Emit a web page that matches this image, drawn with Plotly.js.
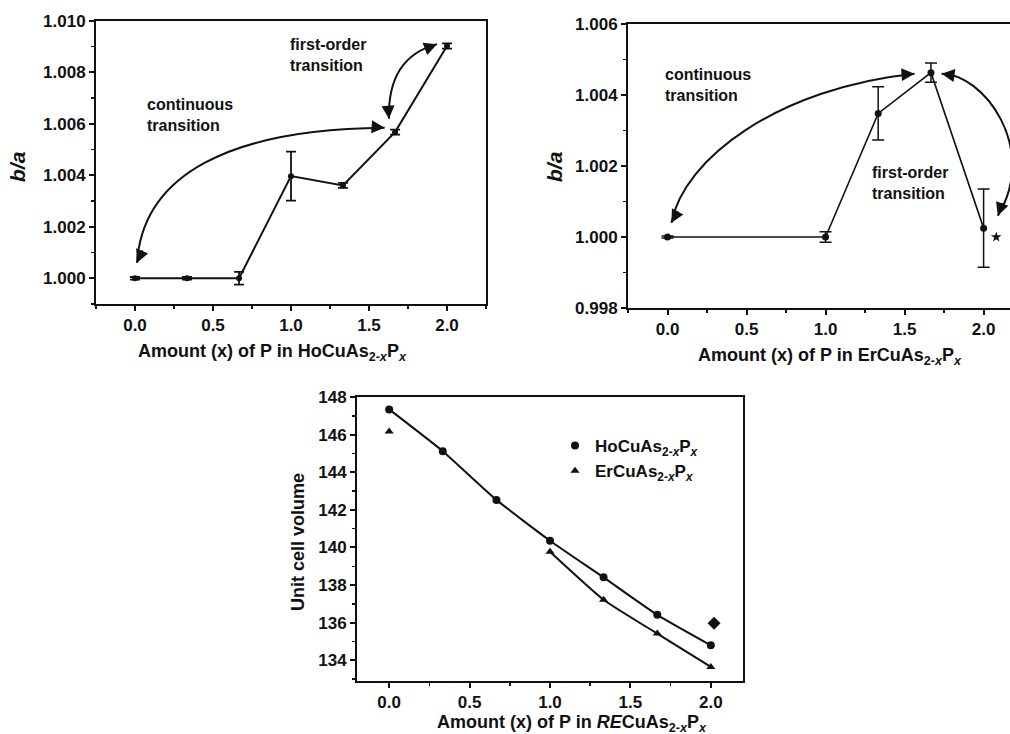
<!DOCTYPE html>
<html>
<head>
<meta charset="utf-8">
<script src="https://cdn.plot.ly/plotly-3.0.1.min.js"></script>
<style>html,body{margin:0;padding:0;background:#fff;overflow:hidden}</style>
</head>
<body>
<div id="chart" style="width:1010px;height:734px"></div>
<script>
// ---- data ----
const xHo = [0, 0.333, 0.667, 1.0, 1.333, 1.667, 2.0];
const baHo = [1.0000, 1.0000, 1.0000, 1.00397, 1.00361, 1.00568, 1.00903];
const baHoErr = [0.00005, 0.00005, 0.00025, 0.00095, 0.0001, 0.0001, 0.0001];

const xErBA = [0, 1.0, 1.333, 1.667, 2.0];
const baEr = [1.0000, 1.0000, 1.00348, 1.00463, 1.00025];
const baErErr = [0.00003, 0.00015, 0.00075, 0.00027, 0.0011];
const starX = [2.08];
const starY = [1.0000];

const volHo = [147.34, 145.12, 142.53, 140.36, 138.41, 136.42, 134.80];
const xErVol = [0, 1.0, 1.333, 1.667, 2.0];
const volEr = [146.17, 139.77, 137.22, 135.42, 133.65];
const diamondX = [2.02];
const diamondY = [135.97];

const legendHo = 'HoCuAs<sub>2-<i>x</i></sub>P<sub><i>x</i></sub>';
const legendEr = 'ErCuAs<sub>2-<i>x</i></sub>P<sub><i>x</i></sub>';

// ---- styling ----
const FONT = 'Liberation Sans, Arial, sans-serif';
const BLK = '#111';
const W = 1010, H = 734;
function dx(a, b) { return [a / W, b / W]; }
function dy(top, bot) { return [1 - bot / H, 1 - top / H]; }

const traces = [
  // Panel 1
  {x: xHo, y: baHo, xaxis: 'x', yaxis: 'y', mode: 'lines+markers', showlegend: false,
   line: {color: BLK, width: 2}, marker: {symbol: 'circle', size: 6, color: BLK},
   error_y: {type: 'data', array: baHoErr, visible: true, color: BLK, thickness: 1.8, width: 5}},
  // Panel 2
  {x: xErBA, y: baEr, xaxis: 'x2', yaxis: 'y2', mode: 'lines+markers', showlegend: false,
   line: {color: BLK, width: 1.6}, marker: {symbol: 'circle', size: 7, color: BLK},
   error_y: {type: 'data', array: baErErr, visible: true, color: BLK, thickness: 1.5, width: 6}},
  {x: starX, y: starY, xaxis: 'x2', yaxis: 'y2', mode: 'markers', showlegend: false,
   marker: {symbol: 'star', size: 8, color: BLK}},
  // Panel 3 lines
  {x: xHo, y: volHo, xaxis: 'x3', yaxis: 'y3', mode: 'lines', showlegend: false,
   line: {color: BLK, width: 2, shape: 'spline', smoothing: 0.5}},
  {x: xErVol.slice(1), y: volEr.slice(1), xaxis: 'x3', yaxis: 'y3', mode: 'lines', showlegend: false,
   line: {color: BLK, width: 2, shape: 'spline', smoothing: 0.5}},
  // Panel 3 markers (legend)
  {x: xHo, y: volHo, xaxis: 'x3', yaxis: 'y3', mode: 'markers', name: legendHo, showlegend: true,
   marker: {symbol: 'circle', size: 8, color: BLK}},
  {x: xErVol, y: volEr, xaxis: 'x3', yaxis: 'y3', mode: 'markers', name: legendEr, showlegend: true,
   marker: {symbol: 'triangle-up', size: 8, color: BLK}},
  {x: diamondX, y: diamondY, xaxis: 'x3', yaxis: 'y3', mode: 'markers', showlegend: false,
   marker: {symbol: 'diamond', size: 10, color: BLK}}
];

const tickFont = {family: FONT, size: 17, color: BLK, weight: 'bold'};
function xa(domain, range, anchor) {
  return {domain: domain, range: range, anchor: anchor, showline: true, linecolor: BLK, linewidth: 2,
    mirror: true, ticks: 'outside', ticklen: 5, tickwidth: 2, tickcolor: BLK,
    tick0: 0, dtick: 0.5, tickformat: '.1f', showgrid: false, zeroline: false,
    minor: {ticks: 'outside', ticklen: 3, tickwidth: 1.5, tickcolor: BLK, dtick: 0.25},
    tickfont: tickFont, fixedrange: true};
}
function ya(domain, range, anchor, dtick, fmt, mirror) {
  return {domain: domain, range: range, anchor: anchor, showline: true, linecolor: BLK, linewidth: 2,
    mirror: mirror, ticks: 'outside', ticklen: 5, tickwidth: 2, tickcolor: BLK,
    dtick: dtick, tickformat: fmt, showgrid: false, zeroline: false,
    minor: {ticks: 'outside', ticklen: 3, tickwidth: 1.5, tickcolor: BLK, dtick: dtick / 2},
    tickfont: tickFont, fixedrange: true};
}

const layout = {
  width: W, height: H, margin: {l: 0, r: 0, t: 0, b: 0},
  paper_bgcolor: '#fff', plot_bgcolor: '#fff',
  font: {family: FONT, color: BLK},
  xaxis: xa(dx(96, 486), [-0.25, 2.25], 'y'),
  yaxis: ya(dy(21, 304), [0.999, 1.010], 'x', 0.002, '.3f', true),
  xaxis2: xa(dx(628, 1010), [-0.25, 2.167], 'y2'),
  yaxis2: ya(dy(24, 308), [0.998, 1.006], 'x2', 0.002, '.3f', false),
  xaxis3: xa(dx(357, 743), [-0.2, 2.2], 'y3'),
  yaxis3: ya(dy(397, 681), [132.9, 148], 'x3', 2, 'd', true),
  showlegend: true,
  legend: {x: 555 / W, y: 1 - 428 / H, xanchor: 'left', yanchor: 'top', bgcolor: 'rgba(0,0,0,0)',
    font: {family: FONT, size: 17, color: BLK, weight: 'bold'}, itemwidth: 30, tracegroupgap: 2},
  shapes: [
    {type: 'path', xref: 'x', yref: 'y', path: 'M 0.013,1.0006 C 0.05,1.0040 0.6,1.0058 1.60,1.00585',
     line: {color: BLK, width: 2}},
    {type: 'path', xref: 'x', yref: 'y', path: 'M 1.628,1.0062 C 1.62,1.0080 1.75,1.0088 1.936,1.0091',
     line: {color: BLK, width: 2}},
    {type: 'path', xref: 'x2', yref: 'y2', path: 'M 0.025,1.0004 C 0.1,1.0022 0.7,1.0042 1.563,1.0046',
     line: {color: BLK, width: 2}},
    {type: 'path', xref: 'x2', yref: 'y2', path: 'M 1.734,1.0046 C 2.0,1.0046 2.35,1.0025 2.09,1.0006',
     line: {color: BLK, width: 2}}
  ],
  annotations: []
};

function arrowAt(xr, yr, x, y, ax, ay) {
  layout.annotations.push({xref: xr, yref: yr, x: x, y: y, ax: ax, ay: ay, text: '',
    showarrow: true, arrowhead: 2, arrowsize: 1.3, arrowwidth: 2, arrowcolor: BLK, standoff: 0});
}
arrowAt('x', 'y', 0.013, 1.0006, 6, -14);
arrowAt('x', 'y', 1.60, 1.00585, -14, -1);
arrowAt('x', 'y', 1.628, 1.0062, -1, -14);
arrowAt('x', 'y', 1.936, 1.0091, -13, 5);
arrowAt('x2', 'y2', 0.025, 1.0004, 7, -13);
arrowAt('x2', 'y2', 1.563, 1.0046, -14, 1);
arrowAt('x2', 'y2', 1.734, 1.0046, 14, 2);
arrowAt('x2', 'y2', 2.09, 1.0006, 5, -14);

function txt(x, y, text, opts) {
  layout.annotations.push(Object.assign({xref: 'paper', yref: 'paper', x: x / W, y: 1 - y / H,
    text: text, showarrow: false, xanchor: 'left', yanchor: 'top', align: 'left',
    font: {family: FONT, size: 16, color: BLK, weight: 'bold'}}, opts || {}));
}
// in-plot labels
txt(145, 94, 'continuous<br>transition');
txt(288, 34, 'first-order<br>transition');
txt(663, 64, 'continuous<br>transition');
txt(870, 162, 'first-order<br>transition');
// axis titles
const tfont = {family: FONT, size: 18, color: BLK, weight: 'bold'};
txt(272, 352, 'Amount (x) of P in HoCuAs<sub>2-<i>x</i></sub>P<sub><i>x</i></sub>', {xanchor: 'center', yanchor: 'middle', font: tfont});
txt(830, 356, 'Amount (x) of P in ErCuAs<sub>2-<i>x</i></sub>P<sub><i>x</i></sub>', {xanchor: 'center', yanchor: 'middle', font: tfont});
txt(572, 723, 'Amount (x) of P in <i>RE</i>CuAs<sub>2-<i>x</i></sub>P<sub><i>x</i></sub>', {xanchor: 'center', yanchor: 'middle', font: tfont});
txt(18, 167, '<i>b/a</i>', {xanchor: 'center', yanchor: 'middle', textangle: -90,
  font: {family: FONT, size: 21, color: BLK, weight: 'bold'}});
txt(555, 167, '<i>b/a</i>', {xanchor: 'center', yanchor: 'middle', textangle: -90,
  font: {family: FONT, size: 21, color: BLK, weight: 'bold'}});
txt(298, 542, 'Unit cell volume', {xanchor: 'center', yanchor: 'middle', textangle: -90, font: tfont});

Plotly.newPlot('chart', traces, layout, {displayModeBar: false, staticPlot: true});
</script>
</body>
</html>
